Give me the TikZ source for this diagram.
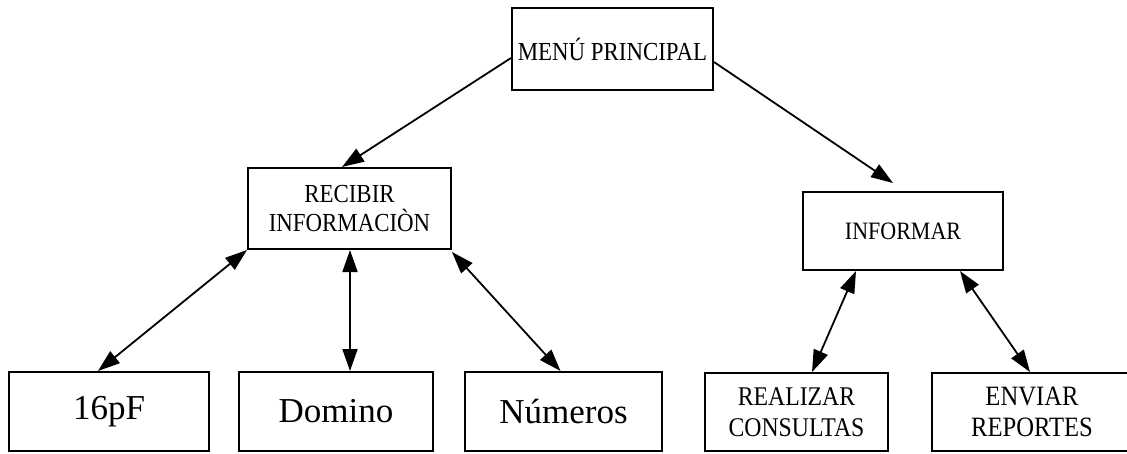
\documentclass[tikz,border=0pt]{standalone}
\usepackage{fontspec}
\setmainfont{Liberation Serif}
\newfontfamily\condfont[FakeStretch=0.88]{Liberation Serif}
\usetikzlibrary{arrows.meta}
\begin{document}
\begin{tikzpicture}[x=1pt,y=-1pt,
  box/.style={draw, line width=2pt, rectangle, inner sep=0pt, align=center},
  tipA/.style={line width=1.8pt, -{Triangle[length=22pt,width=15pt]}},
  tipB/.style={line width=1.8pt, {Triangle[length=22pt,width=15pt]}-{Triangle[length=22pt,width=15pt]}}]
\useasboundingbox (0,0) rectangle (1127,453);
\node[box, minimum width=201pt, minimum height=82pt, font=\condfont\fontsize{26}{30}\selectfont] (menu) at (612.5,49) {MENÚ PRINCIPAL};
\node[box, minimum width=203pt, minimum height=81pt, font=\condfont\fontsize{26}{29}\selectfont] (recibir) at (349.5,208.5) {RECIBIR\\INFORMACIÒN};
\node[box, minimum width=200pt, minimum height=78pt, font=\condfont\fontsize{25}{29}\selectfont] (informar) at (903,231) {INFORMAR};
\node[box, minimum width=200pt, minimum height=79pt, font=\fontsize{35}{40}\selectfont] (p16) at (109,411.5) {16pF};
\node[box, minimum width=194pt, minimum height=79pt, font=\fontsize{35}{40}\selectfont] (domino) at (336,411.5) {Domino};
\node[box, minimum width=197pt, minimum height=79pt, font=\fontsize{35}{40}\selectfont] (numeros) at (563.5,411.5) {Números};
\node[box, minimum width=183pt, minimum height=78pt, font=\condfont\fontsize{27}{31}\selectfont] (realizar) at (796.5,412) {REALIZAR\\CONSULTAS};
\node[box, minimum width=200pt, minimum height=78pt, font=\condfont\fontsize{28}{31}\selectfont] (enviar) at (1032,412) {ENVIAR\\REPORTES};
\draw[tipA] ([yshift=-9pt]menu.west) -- ([xshift=-7.5pt]recibir.north);
\draw[tipA] ([yshift=-13pt]menu.east) -- ([xshift=-10pt,yshift=8pt]informar.north);
\draw[tipB] (recibir.south west) -- ([xshift=-11pt]p16.north);
\draw[tipB] ([xshift=0.5pt]recibir.south) -- ([xshift=14pt]domino.north);
\draw[tipB] ([yshift=-2pt]recibir.south east) -- ([xshift=-3pt]numeros.north);
\draw[tipB] ([xshift=-47pt]informar.south) -- ([xshift=15.5pt]realizar.north);
\draw[tipB] ([xshift=57pt]informar.south) -- ([xshift=-2pt]enviar.north);
\end{tikzpicture}
\end{document}
